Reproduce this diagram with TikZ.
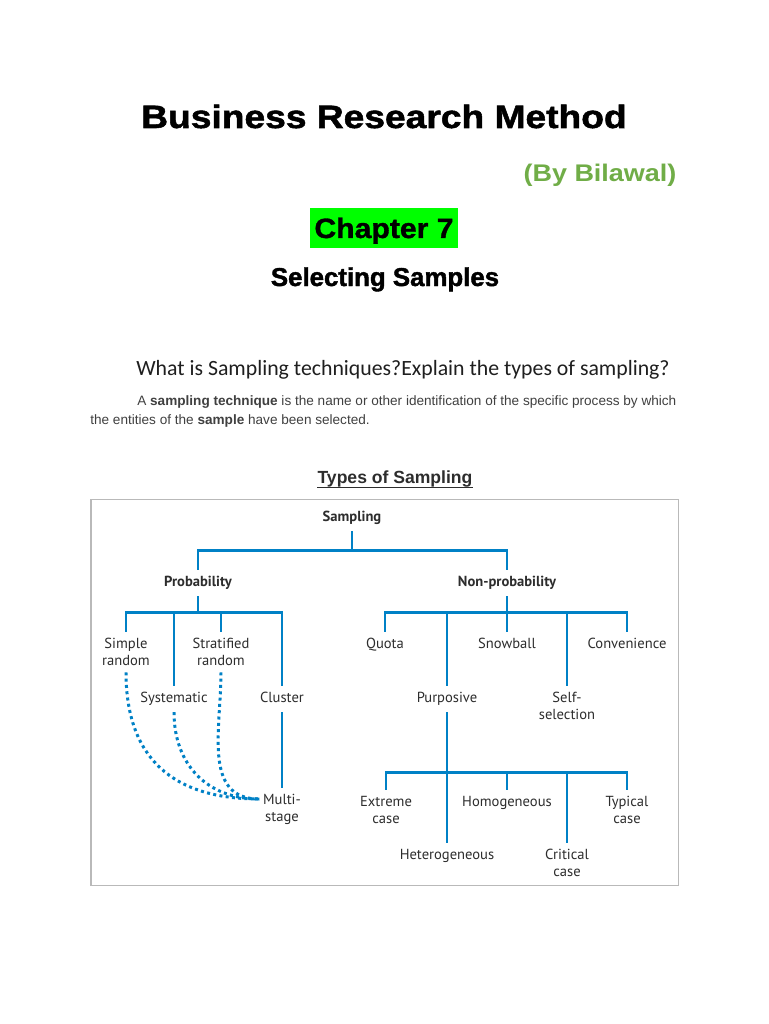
\documentclass[tikz,border=0pt]{standalone}
\usepackage{fontspec}
\setmainfont{Liberation Sans}
\newfontfamily\titlefont[FakeStretch=1.15, FakeBold=1.6]{Liberation Sans}
\newfontfamily\chapfont[FakeStretch=1.08, FakeBold=1.2]{Liberation Sans}
\newfontfamily\subfont[FakeStretch=1.0, FakeBold=1.6]{Liberation Sans}
\newfontfamily\byfont[FakeStretch=1.12]{Liberation Sans}
\newfontfamily\qfont{Carlito}
\newfontfamily\treefont{PT Sans}
\usetikzlibrary{positioning, calc}
\definecolor{treeblue}{RGB}{0,129,198}
\definecolor{bygreen}{RGB}{112,173,71}
\definecolor{chapgreen}{RGB}{0,255,0}
\definecolor{bodygray}{RGB}{64,64,64}
\definecolor{framegray}{RGB}{185,185,185}
\definecolor{labeldark}{RGB}{45,45,45}
\tikzset{
  tree/.style={draw=treeblue, line width=1.6pt},
  dotlink/.style={draw=treeblue, line width=1.7pt, dash pattern=on 1.7pt off 1.9pt},
  leaf/.style={font=\treefont\fontsize{8.3}{9.7}\selectfont, text=labeldark,
    align=center, anchor=north, inner xsep=2pt, inner ysep=0.12cm},
  leafline/.style={leaf, text height=0.2cm, text depth=0.07cm},
  groupnode/.style={leafline, font=\treefont\bfseries\fontsize{8.3}{9.7}\selectfont},
  chapbox/.style={fill=chapgreen, minimum width=2.96cm, minimum height=0.8cm,
    text height=0.4cm, text depth=0pt, inner sep=0pt,
    font=\chapfont\bfseries\fontsize{15.9}{18}\selectfont},
  bodytext/.style={anchor=base west, inner sep=0pt, text=bodygray,
    font=\fontsize{7.73}{10}\selectfont}
}
\begin{document}
\begin{tikzpicture}[x=0.02cm, y=-0.02cm]
  \useasboundingbox[fill=white] (0,0) rectangle (768,1024);

  % Heading
  \node[anchor=base, font=\titlefont\bfseries\fontsize{18.4}{20}\selectfont] (title) at (384,128) {Business Research Method};
  \node[anchor=base, text=bygreen, font=\byfont\bfseries\fontsize{13.7}{16}\selectfont] (byline) at (600,181) {(By Bilawal)};
  \node[chapbox] (chap) at (384,228) {Chapter 7};
  \node[anchor=base, font=\subfont\bfseries\fontsize{14.7}{17}\selectfont] (sub) at (385,286) {Selecting Samples};

  % Question and definition
  \node[anchor=base west, inner sep=0pt, text=black!88, font=\qfont\fontsize{12.4}{14}\selectfont] (quest) at (136,375) {What is Sampling techniques?Explain the types of sampling?};
  \node[bodytext] (def1) at (137,405) {A \textbf{sampling technique} is the name or other identification of the specific process by which};
  \node[bodytext] (def2) at (90,424) {the entities of the \textbf{sample} have been selected.};

  \node[anchor=base, inner sep=0pt, text=labeldark, font=\bfseries\fontsize{10}{12}\selectfont] (types) at (395,483) {Types of Sampling};
  \draw[labeldark, line width=0.7pt] ($(types.base west)+(0,4.5)$) -- ($(types.base east)+(0,4.5)$);

  \draw[framegray, line width=0.9pt] (91,499.5) rectangle (678.5,885.5);

  % Tree
  \node[groupnode] (samp) at (352,505) {Sampling};
  \node[groupnode] (prob) at (198,570) {Probability};
  \node[groupnode] (nonprob) at (507,570) {Non-probability};

  \node[leaf] (simple) at (126,632) {Simple\\random};
  \node[leaf] (strat) at (221,632) {Stratified\\random};
  \node[leafline] (syst) at (174,686) {Systematic};
  \node[leafline] (clust) at (282,686) {Cluster};
  \node[leaf] (mstage) at (282,788) {Multi-\\stage};

  \node[leafline] (quota) at (385,632) {Quota};
  \node[leafline] (snow) at (507,632) {Snowball};
  \node[leafline] (conv) at (627,632) {Convenience};
  \node[leafline] (purp) at (447,686) {Purposive};
  \node[leaf] (selfsel) at (567,686) {Self-\\selection};

  \node[leaf] (extreme) at (386,790) {Extreme\\case};
  \node[leafline] (homog) at (507,790) {Homogeneous};
  \node[leaf] (typical) at (627,790) {Typical\\case};
  \node[leafline] (hetero) at (447,843) {Heterogeneous};
  \node[leaf] (critical) at (567,843) {Critical\\case};

  % Paths
  \draw[tree] (samp.south) -- ++(0,19.5) coordinate (topbus);
  \draw[tree] (topbus) -| (prob.north);
  \draw[tree] (topbus) -| (nonprob.north);

  \draw[tree] (prob.south) -- ++(0,16.5) coordinate (pbus);
  \foreach \n in {simple,syst,strat,clust}
    \draw[tree] (pbus) -| (\n.north);
  \draw[tree] (clust.south) -- (mstage.north);

  \draw[tree] (nonprob.south) -- ++(0,16.5) coordinate (nbus);
  \foreach \n in {quota,purp,snow,selfsel,conv}
    \draw[tree] (nbus) -| (\n.north);

  \draw[tree] (purp.south) -- ++(0,60.5) coordinate (ubus);
  \foreach \n in {extreme,hetero,homog,critical,typical}
    \draw[tree] (ubus) -| (\n.north);

  % dotted links into multi-stage
  \coordinate (mjoin) at ($(mstage.north west)+(0,11)$);
  \draw[dotlink] (simple.south) to[out=-90, in=180, looseness=1.2] (mjoin);
  \draw[dotlink] (syst.south) to[out=-90, in=180, looseness=1.1] (mjoin);
  \draw[dotlink] (strat.south) to[out=-90, in=180, looseness=1.1] (mjoin);
\end{tikzpicture}
\end{document}
